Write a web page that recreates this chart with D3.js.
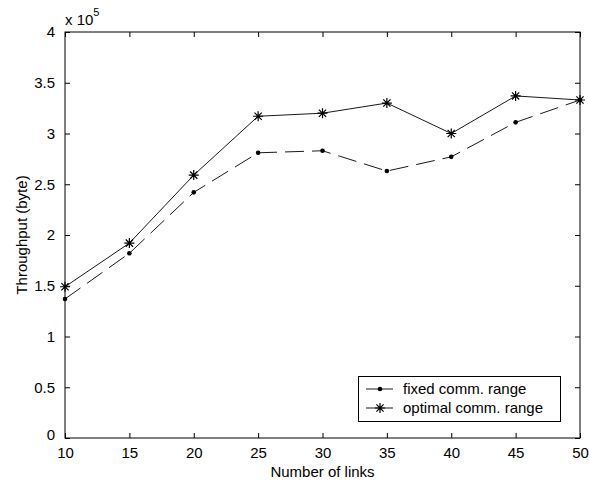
<!DOCTYPE html>
<html><head><meta charset="utf-8">
<script src="https://cdn.jsdelivr.net/npm/d3@7"></script>
<style>body{margin:0;background:#fff}svg{display:block}text{font-family:"Liberation Sans",Arial,sans-serif;fill:#000}</style>
</head><body>
<script>
const links = [10, 15, 20, 25, 30, 35, 40, 45, 50];
const fixedRange = [1.37, 1.82, 2.42, 2.81, 2.83, 2.63, 2.77, 3.11, 3.33];
const optimalRange = [1.49, 1.92, 2.59, 3.17, 3.20, 3.30, 3.00, 3.37, 3.33];
const xTicks = [10, 15, 20, 25, 30, 35, 40, 45, 50];
const yTicks = [0, 0.5, 1, 1.5, 2, 2.5, 3, 3.5, 4];
const seriesNames = ["fixed comm. range", "optimal comm. range"];

const W = 589, H = 483;
const L = 65, R = 580, T = 32, B = 438;
const svg = d3.select("body").append("svg").attr("width", W).attr("height", H);
const x = d3.scaleLinear().domain([10, 50]).range([L, R]);
const y = d3.scaleLinear().domain([0, 4]).range([B, T]);
const fs = 15;

// axes box
svg.append("rect").attr("x", L).attr("y", T).attr("width", R - L).attr("height", B - T)
  .attr("fill", "none").attr("stroke", "#000").attr("stroke-width", 1);

const axB = svg.append("g").attr("transform", `translate(0,${B})`)
  .call(d3.axisBottom(x).tickValues(xTicks).tickSizeInner(-5).tickSizeOuter(0).tickPadding(9).tickFormat(d3.format("d")));
const axT = svg.append("g").attr("transform", `translate(0,${T})`)
  .call(d3.axisTop(x).tickValues(xTicks).tickSizeInner(-5).tickSizeOuter(0).tickFormat(""));
const axL = svg.append("g").attr("transform", `translate(${L},0)`)
  .call(d3.axisLeft(y).tickValues(yTicks).tickSizeInner(-5).tickSizeOuter(0).tickPadding(10).tickFormat(d => d));
const axR = svg.append("g").attr("transform", `translate(${R},0)`)
  .call(d3.axisRight(y).tickValues(yTicks).tickSizeInner(-5).tickSizeOuter(0).tickFormat(""));
[axB, axT, axL, axR].forEach(g => {
  g.select(".domain").remove();
  g.selectAll("line").attr("stroke", "#000");
  g.selectAll("text").attr("font-size", fs).attr("font-family", '"Liberation Sans",Arial,sans-serif').attr("fill", "#000");
});
axL.selectAll(".tick").filter(d => d === 0).select("text").attr("dy", "0.1em");

// exponent label
const ex = svg.append("text").attr("x", L).attr("y", 25).attr("font-size", fs);
ex.append("tspan").text("x 10");
ex.append("tspan").attr("font-size", 11).attr("dy", -9).text("5");

// axis labels
svg.append("text").attr("x", (L + R) / 2).attr("y", 477).attr("text-anchor", "middle").attr("font-size", fs).text("Number of links");
svg.append("text").attr("transform", `translate(27,${(T + B) / 2}) rotate(-90)`).attr("text-anchor", "middle").attr("font-size", fs).text("Throughput (byte)");

const line = d3.line().x((d, i) => x(links[i])).y(d => y(d));
const dash = "19,8";
const col = "#1a1a1a";

svg.append("path").datum(fixedRange).attr("d", line).attr("fill", "none").attr("stroke", col)
  .attr("stroke-width", 1).attr("stroke-dasharray", dash);
svg.append("path").datum(optimalRange).attr("d", line).attr("fill", "none").attr("stroke", col).attr("stroke-width", 1);

function dot(g, cx, cy) {
  g.append("circle").attr("cx", cx).attr("cy", cy).attr("r", 2.3).attr("fill", "#000");
}
function star(g, cx, cy) {
  const s = 5, d = 3.6;
  const p = `M${cx - s},${cy}L${cx + s},${cy}M${cx},${cy - s}L${cx},${cy + s}` +
    `M${cx - d},${cy - d}L${cx + d},${cy + d}M${cx - d},${cy + d}L${cx + d},${cy - d}`;
  g.append("path").attr("d", p).attr("stroke", "#000").attr("stroke-width", 1.2).attr("fill", "none");
}
const mk = svg.append("g");
fixedRange.forEach((v, i) => dot(mk, x(links[i]), y(v)));
optimalRange.forEach((v, i) => star(mk, x(links[i]), y(v)));

// legend
const lg = svg.append("g");
lg.append("rect").attr("x", 358.5).attr("y", 376.5).attr("width", 202).attr("height", 45)
  .attr("fill", "#fff").attr("stroke", "#000").attr("stroke-width", 1);
const rows = [389, 408];
seriesNames.forEach((n, i) => {
  lg.append("line").attr("x1", 366).attr("x2", 393).attr("y1", rows[i]).attr("y2", rows[i]).attr("stroke", col);
  if (i === 0) dot(lg, 380, rows[i]); else star(lg, 380, rows[i]);
  lg.append("text").attr("x", 403).attr("y", rows[i] + 5).attr("font-size", fs).text(n);
});
</script>
</body></html>
